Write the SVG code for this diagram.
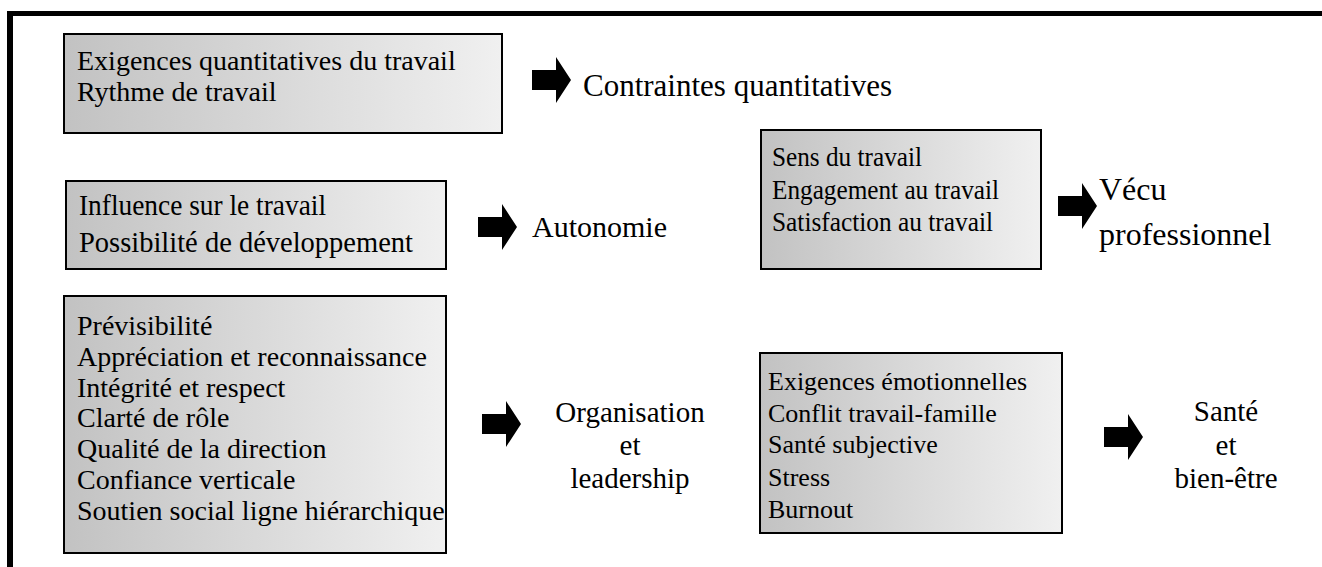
<svg xmlns="http://www.w3.org/2000/svg" width="1322" height="567" viewBox="0 0 1322 567">
  <style>
    .box { fill: url(#boxFill); stroke: #000; stroke-width: 2; }
    .t { font-family: "Liberation Serif", "Times New Roman", serif; fill: #000; }
    .frame { fill: #000; }
  </style>
  <defs>
    <linearGradient id="boxFill" x1="0" y1="0" x2="1" y2="0">
      <stop offset="0" stop-color="#c2c2c2"/>
      <stop offset="1" stop-color="#f0f0f0"/>
    </linearGradient>
    <!-- block arrow, origin at left end of the shaft, centred vertically -->
    <path id="blockArrow" d="M0,-10 H24 V-23 L39,0 L24,23 V10 H0 Z" fill="#000"/>
  </defs>

  <rect x="0" y="0" width="1322" height="567" fill="#fff"/>

  <!-- outer frame: top and left rules -->
  <rect class="frame" x="7" y="11" width="1315" height="5"/>
  <rect class="frame" x="7" y="11" width="6" height="556"/>

  <g id="node-quantitatif">
    <rect class="box" x="64" y="34" width="438" height="99"/>
    <text class="t" font-size="28" x="77" y="70">Exigences quantitatives du travail</text>
    <text class="t" font-size="28" x="77" y="101">Rythme de travail</text>
  </g>
  <g id="label-contraintes">
    <text class="t" font-size="31" x="583" y="96">Contraintes quantitatives</text>
  </g>

  <g id="node-influence">
    <rect class="box" x="66" y="181" width="380" height="88"/>
    <text class="t" font-size="30" x="79" y="215" textLength="247" lengthAdjust="spacingAndGlyphs">Influence sur le travail</text>
    <text class="t" font-size="30" x="79" y="252" textLength="334" lengthAdjust="spacingAndGlyphs">Possibilité de développement</text>
  </g>
  <g id="label-autonomie">
    <text class="t" font-size="30" x="532" y="237">Autonomie</text>
  </g>

  <g id="node-vecu">
    <rect class="box" x="761" y="130" width="280" height="139"/>
    <text class="t" font-size="28" x="772" y="166" textLength="150" lengthAdjust="spacingAndGlyphs">Sens du travail</text>
    <text class="t" font-size="28" x="772" y="199" textLength="227" lengthAdjust="spacingAndGlyphs">Engagement au travail</text>
    <text class="t" font-size="28" x="772" y="231" textLength="221" lengthAdjust="spacingAndGlyphs">Satisfaction au travail</text>
  </g>
  <g id="label-vecu">
    <text class="t" font-size="32" x="1099" y="200">Vécu</text>
    <text class="t" font-size="32" x="1099" y="245">professionnel</text>
  </g>

  <g id="node-organisation">
    <rect class="box" x="64" y="296" width="382" height="257"/>
    <text class="t" font-size="28" x="77" y="335">Prévisibilité</text>
    <text class="t" font-size="28" x="77" y="366">Appréciation et reconnaissance</text>
    <text class="t" font-size="28" x="77" y="397">Intégrité et respect</text>
    <text class="t" font-size="28" x="77" y="427">Clarté de rôle</text>
    <text class="t" font-size="28" x="77" y="458">Qualité de la direction</text>
    <text class="t" font-size="28" x="77" y="489">Confiance verticale</text>
    <text class="t" font-size="28" x="77" y="520">Soutien social ligne hiérarchique</text>
  </g>
  <g id="label-organisation">
    <text class="t" font-size="29" text-anchor="middle" x="630" y="422">Organisation</text>
    <text class="t" font-size="29" text-anchor="middle" x="630" y="455">et</text>
    <text class="t" font-size="29" text-anchor="middle" x="630" y="488">leadership</text>
  </g>

  <g id="node-sante">
    <rect class="box" x="760" y="353" width="302" height="180"/>
    <text class="t" font-size="26" x="768" y="390">Exigences émotionnelles</text>
    <text class="t" font-size="26" x="768" y="422">Conflit travail-famille</text>
    <text class="t" font-size="26" x="768" y="453">Santé subjective</text>
    <text class="t" font-size="26" x="768" y="486">Stress</text>
    <text class="t" font-size="26" x="768" y="518">Burnout</text>
  </g>
  <g id="label-sante">
    <text class="t" font-size="29" text-anchor="middle" x="1226" y="421">Santé</text>
    <text class="t" font-size="29" text-anchor="middle" x="1226" y="455">et</text>
    <text class="t" font-size="29" text-anchor="middle" x="1226" y="488">bien-être</text>
  </g>

  <g id="connectors">
    <use href="#blockArrow" x="532" y="80"/>
    <use href="#blockArrow" x="478" y="227"/>
    <use href="#blockArrow" x="1058" y="206"/>
    <use href="#blockArrow" x="482" y="424"/>
    <use href="#blockArrow" x="1104" y="437"/>
  </g>
</svg>
